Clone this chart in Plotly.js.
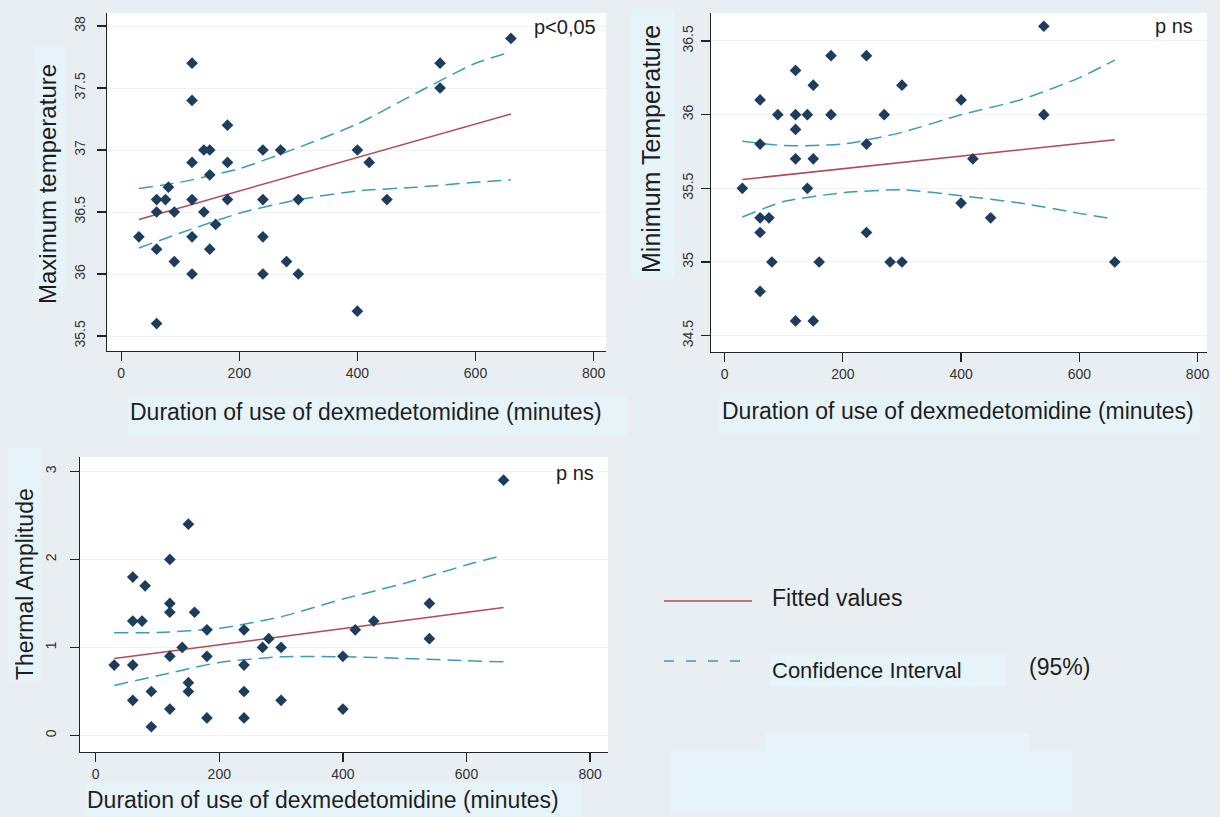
<!DOCTYPE html>
<html>
<head>
<meta charset="utf-8">
<script src="https://cdn.plot.ly/plotly-3.0.1.min.js"></script>
<style>html,body{margin:0;padding:0;background:#e9eef2;}#chart{width:1220px;height:817px;}</style>
</head>
<body>
<div id="chart"></div>
<script>
// ---------- data ----------
// Panel 1: Maximum temperature
const durMax = [30,60,60,60,60,75,80,90,90,120,120,120,120,120,120,140,140,150,150,150,160,180,180,180,240,240,240,240,270,280,300,300,400,400,420,450,540,540,660];
const tempMax = [36.3,36.2,36.5,36.6,35.6,36.6,36.7,36.5,36.1,37.7,37.4,36.9,36.6,36.3,36.0,36.5,37.0,37.0,36.8,36.2,36.4,37.2,36.9,36.6,37.0,36.6,36.3,36.0,37.0,36.1,36.6,36.0,37.0,35.7,36.9,36.6,37.7,37.5,37.9];
const fitX = [30, 660];
const fitMax = [36.44, 37.29];
const ciX = [30, 100, 200, 300, 400, 500, 600, 660];
const ciMaxUpper = [36.69, 36.74, 36.85, 37.02, 37.21, 37.46, 37.70, 37.79];
const ciMaxLower = [36.21, 36.33, 36.49, 36.60, 36.67, 36.70, 36.74, 36.76];

// Panel 2: Minimum temperature
const durMin = [30,60,60,60,60,60,75,80,90,120,120,120,120,120,140,140,150,150,150,160,180,180,240,240,240,270,280,300,300,400,400,420,450,540,540,660];
const tempMin = [35.5,36.1,35.8,35.3,35.2,34.8,35.3,35.0,36.0,36.3,36.0,35.9,35.7,34.6,36.0,35.5,36.2,35.7,34.6,35.0,36.4,36.0,36.4,35.8,35.2,36.0,35.0,36.2,35.0,36.1,35.4,35.7,35.3,36.6,36.0,35.0];
const fitMin = [35.56, 35.83];
const ciMinUpper = [35.82, 35.79, 35.80, 35.88, 36.00, 36.10, 36.25, 36.37];
const ciMinLower = [35.305, 35.41, 35.47, 35.49, 35.45, 35.40, 35.33, 35.29];

// Panel 3: Thermal amplitude
const durAmp = [30,60,60,60,60,75,80,90,90,120,120,120,120,120,140,150,150,150,160,180,180,180,240,240,240,240,270,280,300,300,400,400,420,450,540,540,660];
const amplitude = [0.8,1.8,1.3,0.8,0.4,1.3,1.7,0.5,0.1,2.0,1.5,1.4,0.9,0.3,1.0,2.4,0.6,0.5,1.4,1.2,0.9,0.2,1.2,0.8,0.5,0.2,1.0,1.1,1.0,0.4,0.9,0.3,1.2,1.3,1.5,1.1,2.9];
const fitAmp = [0.875, 1.455];
const ciAmpUpper = [1.167, 1.17, 1.217, 1.349, 1.55, 1.729, 1.937, 2.048];
const ciAmpLower = [0.569, 0.678, 0.83, 0.894, 0.894, 0.876, 0.849, 0.838];

// tick labels
const xTickVals = [0, 200, 400, 600, 800];
const xTickText = ['0', '200', '400', '600', '800'];
const yMaxTickVals = [35.5, 36, 36.5, 37, 37.5, 38];
const yMaxTickText = ['35.5', '36', '36.5', '37', '37.5', '38'];
const yMinTickVals = [34.5, 35, 35.5, 36, 36.5];
const yMinTickText = ['34.5', '35', '35.5', '36', '36.5'];
const yAmpTickVals = [0, 1, 2, 3];
const yAmpTickText = ['0', '1', '2', '3'];

// text
const xTitle = 'Duration of use of dexmedetomidine (minutes)';
const yTitles = ['Maximum temperature', 'Minimum Temperature', 'Thermal Amplitude'];
const pLabels = ['p<0,05', 'p ns', 'p ns'];
const legendLabels = ['Fitted values', 'Confidence Interval', '(95%)'];

// ---------- styling ----------
const W = 1220, H = 817;
const px = v => v / W;
const py = v => 1 - v / H;
const MARK = '#1d3c5e', FIT = '#b04a55', CI = '#3a9db5';
const TXT = '#1e1e1e';
const FONT = 'Liberation Sans, Arial, sans-serif';
const TICKFONT = {family: 'Liberation Sans Narrow, Liberation Sans, Arial, sans-serif', size: 14, color: '#333'};

function pts(x, y, ax) {
  return {type: 'scatter', mode: 'markers', x: x, y: y, xaxis: 'x' + ax, yaxis: 'y' + ax,
    marker: {symbol: 'diamond', size: 9, color: MARK}, hoverinfo: 'x+y'};
}
function fit(x, y, ax) {
  return {type: 'scatter', mode: 'lines', x: x, y: y, xaxis: 'x' + ax, yaxis: 'y' + ax,
    line: {color: FIT, width: 1.5}};
}
function ci(x, y, ax) {
  return {type: 'scatter', mode: 'lines', x: x, y: y, xaxis: 'x' + ax, yaxis: 'y' + ax,
    line: {color: CI, width: 1.5, dash: '14px,7px', shape: 'spline', smoothing: 0.6}};
}
const traces = [
  ci(ciX, ciMaxUpper, ''), ci(ciX, ciMaxLower, ''), fit(fitX, fitMax, ''), pts(durMax, tempMax, ''),
  ci(ciX, ciMinUpper, '2'), ci(ciX, ciMinLower, '2'), fit(fitX, fitMin, '2'), pts(durMin, tempMin, '2'),
  ci(ciX, ciAmpUpper, '3'), ci(ciX, ciAmpLower, '3'), fit(fitX, fitAmp, '3'), pts(durAmp, amplitude, '3')
];

function xa(dom, range, anchor) {
  return {domain: dom, range: range, anchor: anchor, tickvals: xTickVals, ticktext: xTickText,
    showline: true, linecolor: '#222', linewidth: 1.3, mirror: false,
    ticks: 'outside', ticklen: 9, tickwidth: 1.3, tickcolor: '#222',
    showgrid: false, zeroline: false, tickfont: TICKFONT, fixedrange: true};
}
function ya(dom, range, anchor, tv, tt, standoff) {
  return {domain: dom, range: range, anchor: anchor, tickvals: tv, ticktext: tt, tickangle: -90,
    showline: true, linecolor: '#222', linewidth: 1.3, mirror: false,
    ticks: 'outside', ticklen: 9, tickwidth: 1.3, tickcolor: '#222', ticklabelstandoff: standoff,
    showgrid: true, gridcolor: '#f1f2f3', gridwidth: 1, zeroline: false, tickfont: TICKFONT, fixedrange: true};
}

function ann(text, x, y, size, opts) {
  return Object.assign({text: text, x: px(x), y: py(y), xref: 'paper', yref: 'paper',
    xanchor: 'center', yanchor: 'middle', showarrow: false,
    font: {family: FONT, size: size, color: TXT}}, opts || {});
}
const annotations = [
  ann(yTitles[0], 47, 184, 24, {textangle: -90}),
  ann(yTitles[1], 651, 149, 25, {textangle: -90}),
  ann(yTitles[2], 25, 584, 23, {textangle: -90}),
  ann(xTitle, 366, 412, 23),
  ann(xTitle, 958, 411, 23),
  ann(xTitle, 323, 800, 23),
  ann(pLabels[0], 565, 27, 20),
  ann(pLabels[1], 1174, 26, 20),
  ann(pLabels[2], 575, 473, 20),
  ann(legendLabels[0], 770, 598, 23, {xanchor: 'left'}),
  ann(legendLabels[1], 770, 670, 22, {xanchor: 'left'}),
  ann(legendLabels[2], 1027, 667, 23, {xanchor: 'left'})
];

function rect(x0, y0, x1, y1, color) {
  return {type: 'rect', xref: 'paper', yref: 'paper', x0: px(x0), x1: px(x1), y0: py(y1), y1: py(y0),
    fillcolor: color, line: {width: 0}, layer: 'below'};
}
const PATCH = '#e6f4fa';
const shapes = [
  rect(128, 396, 628, 436, PATCH),
  rect(34, 47, 66, 294, PATCH),
  rect(718, 394, 1200, 434, PATCH),
  rect(630, 10, 675, 278, PATCH),
  rect(8, 448, 42, 682, PATCH),
  rect(85, 783, 582, 817, PATCH),
  rect(770, 655, 1006, 687, PATCH),
  rect(765, 733, 1030, 752, PATCH),
  rect(670, 750, 1072, 812, PATCH),
  // legend line samples
  {type: 'line', xref: 'paper', yref: 'paper', x0: px(664), x1: px(752), y0: py(601), y1: py(601),
    line: {color: FIT, width: 1.5}},
  {type: 'line', xref: 'paper', yref: 'paper', x0: px(664), x1: px(752), y0: py(661), y1: py(661),
    line: {color: CI, width: 1.5, dash: '10px,12px'}}
];

const layout = {
  width: W, height: H, margin: {l: 0, r: 0, t: 0, b: 0, pad: 0},
  paper_bgcolor: '#e9eef2', plot_bgcolor: '#ffffff', showlegend: false,
  font: {family: FONT, color: TXT},
  xaxis: xa([px(107), px(606)], [-24, 821], 'y'),
  yaxis: ya([py(351), py(13)], [35.379, 38.105], 'x', yMaxTickVals, yMaxTickText, 6),
  xaxis2: xa([px(711), px(1207)], [-23, 816], 'y2'),
  yaxis2: ya([py(352), py(13)], [34.389, 36.69], 'x2', yMinTickVals, yMinTickText, 2),
  xaxis3: xa([px(80), px(608)], [-25.4, 829], 'y3'),
  yaxis3: ya([py(752), py(457)], [-0.187, 3.163], 'x3', yAmpTickVals, yAmpTickText, 8),
  annotations: annotations,
  shapes: shapes
};

Plotly.newPlot('chart', traces, layout, {displayModeBar: false, staticPlot: true});
</script>
</body>
</html>
